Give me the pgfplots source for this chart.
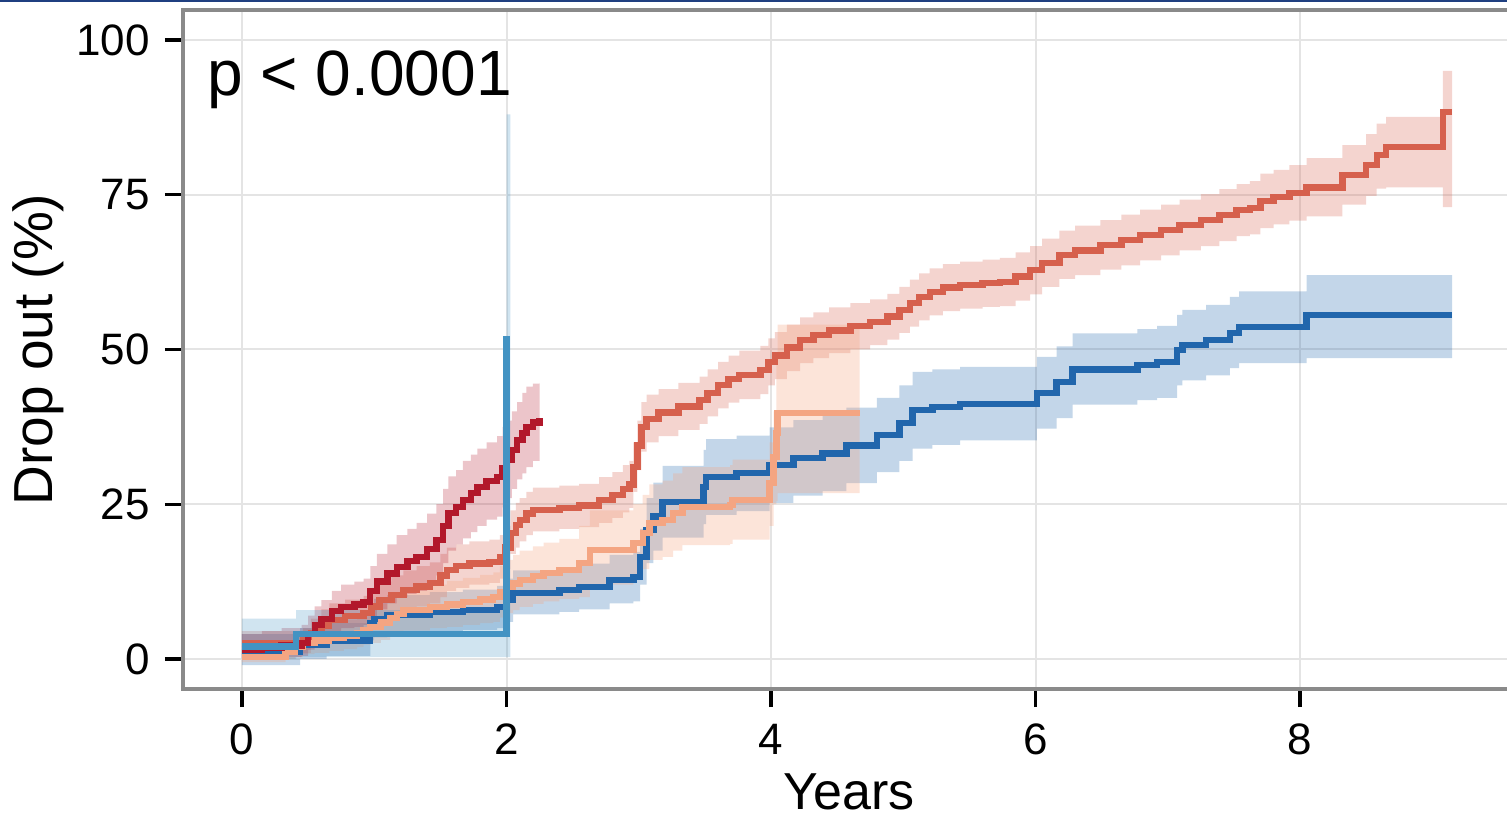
\documentclass[border=0pt]{standalone}
\usepackage{fontspec}
\setmainfont{Liberation Sans}
\usepackage{pgfplots}
\usepackage{pgfplotstable}
\pgfplotsset{compat=1.18}
\usepgfplotslibrary{fillbetween}
\definecolor{cDR}{HTML}{B2182B}
\definecolor{cRO}{HTML}{D6604D}
\definecolor{cSA}{HTML}{F4A582}
\definecolor{cDB}{HTML}{2166AC}
\definecolor{cMB}{HTML}{4393C3}
\definecolor{gridgray}{HTML}{E4E4E4}
\definecolor{axisgray}{HTML}{8A8A8A}
\definecolor{topblue}{HTML}{1F3F80}

\pgfplotstableread{
x y lo hi
0 1.5 0 4
0.15 1.8 0 4.5
0.3 2.2 0.3 5
0.45 2.6 0.5 5.5
0.5 4.0 1.5 7
0.55 5.5 2.5 8.5
0.6 6.5 3.5 9.5
0.68 7.8 4.5 11
0.75 8.4 5 12
0.85 8.8 5.2 12.5
0.92 9.2 5.5 13
0.97 11 6.5 15
1.02 12.5 8 17
1.1 13.8 9 18.5
1.17 14.9 10 20
1.25 15.8 10.5 21
1.32 16.5 11 22
1.4 17.8 12 23.5
1.47 19.2 13.5 25
1.52 21.5 15.5 27.5
1.56 23.6 17.5 29.5
1.62 24.6 18.5 30.5
1.67 25.7 19.5 32
1.73 26.8 20.5 33
1.78 27.8 21.5 34
1.85 28.8 22.5 35
1.93 29.4 23 36
1.97 30.8 24.5 37.5
2.0 32.1 26 38.5
2.04 33.8 27.5 40
2.08 35.4 29 41.5
2.12 36.5 30 43
2.15 37.5 31 44
2.2 38.2 32 44.5
2.25 38.9 32.6 44.6
}\DR

\pgfplotstableread{
x y lo hi
0 2.6 0.8 4.5
0.46 3.0 1 5
0.52 4.2 2 6.5
0.6 5.4 3 8
0.66 6.3 3.8 9
0.78 6.9 4.3 9.6
0.92 7.4 4.7 10.2
0.98 8.5 5.5 11.5
1.04 9.5 6.5 12.5
1.13 10.3 7.2 13.5
1.22 11.1 8 14.3
1.32 11.7 8.5 15
1.42 12.3 9 15.6
1.5 13.5 10 17
1.55 14.4 11 18
1.62 15 11.5 18.5
1.72 15.4 12 19
1.87 15.7 12.3 19.3
1.95 16.5 13 20
1.99 18 14.5 21.5
2.03 20.4 17 24
2.07 21.6 18 25.2
2.1 22.5 19 26
2.15 23.5 20 27
2.2 24.1 20.6 27.7
2.4 24.4 21 28
2.55 24.8 21.3 28.3
2.7 25.7 22 29.4
2.8 26.5 22.8 30.2
2.88 27.5 23.7 31.3
2.93 28.2 24.4 32
2.96 31 27 35
2.99 34.5 30.5 38.5
3.02 37.5 33.5 41.5
3.06 38.8 35 42.7
3.15 39.8 36 43.6
3.3 40.8 37 44.6
3.46 41.8 38 45.6
3.52 43 39.2 46.8
3.6 44.3 40.5 48
3.68 45.2 41.4 49
3.76 45.9 42 49.8
3.92 46.7 42.8 50.6
3.98 48 44.2 51.8
4.03 49 45.2 52.8
4.12 50.3 46.5 54
4.22 51.5 47.8 55.2
4.32 52.3 48.6 56
4.44 53.1 49.4 56.8
4.6 53.8 50 57.5
4.75 54.4 50.7 58.1
4.88 55.3 51.6 59
4.97 56.4 52.7 60.1
5.05 57.5 53.7 61.3
5.12 58.5 54.7 62.3
5.2 59.3 55.5 63.1
5.3 60 56.2 63.8
5.43 60.4 56.6 64.2
5.6 60.7 56.9 64.5
5.73 60.9 57 64.8
5.85 61.8 57.9 65.7
5.96 62.8 58.9 66.7
6.05 64 60.1 67.9
6.18 65.3 61.4 69.2
6.3 66 62 70
6.49 66.9 62.9 70.9
6.65 67.7 63.6 71.8
6.79 68.5 64.4 72.6
6.95 69.3 65.2 73.4
7.09 70.1 66 74.2
7.25 70.9 66.7 75.1
7.39 71.7 67.5 75.9
7.52 72.5 68.3 76.7
7.62 72.9 68.6 77.2
7.7 74 69.6 78.4
7.8 74.6 70.2 79
7.92 75.3 70.8 79.8
8.05 76.2 71.5 80.9
8.32 78.2 73.4 83
8.5 79.8 74.8 84.8
8.58 81.4 76 86.5
8.65 82.7 76.2 87.6
9.08 88.4 73 95
9.15 88.4 73 95
}\RO

\pgfplotstableread{
x y lo hi
0 0.3 -0.5 1.5
0.26 0.3 -0.5 1.8
0.33 1.2 0 3
0.4 1.9 0.3 4
0.46 2.6 0.8 4.8
0.55 3 1 5.3
0.66 3.4 1.3 5.8
0.77 3.8 1.6 6.3
0.87 4.2 1.9 6.8
0.92 4.7 2.3 7.4
0.97 5.2 2.6 8
1.05 5.9 3.1 8.9
1.12 6.6 3.6 9.8
1.17 7.3 4.1 10.7
1.22 7.9 4.6 11.4
1.42 8.4 5 12
1.55 8.8 5.2 12.6
1.67 9.2 5.5 13.1
1.8 9.6 5.8 13.6
1.9 10 6 14
1.95 10.8 6.7 15
2.0 11.6 7.4 16
2.05 12.2 7.9 16.8
2.1 12.8 8.4 17.5
2.2 13.4 8.9 18.2
2.28 13.9 9.3 18.8
2.4 14.4 9.7 19.4
2.55 15.5 10 21.5
2.63 17.6 12 24
2.96 18.7 13 25
3.03 20.4 14.5 26.5
3.08 22 16 28.2
3.18 22.5 16.5 28.8
3.26 23.6 17.5 30
3.33 24.6 18.4 31
3.69 24.9 18.6 31.3
3.71 25.7 19.3 32.2
3.99 28.4 21.5 35
4.02 32.6 25 40
4.04 36.5 25.5 48
4.05 39.7 26.8 54
4.67 39.7 26.8 54
}\SA

\pgfplotstableread{
x y lo hi
0 1.1 -1 4
0.44 2.3 0 5
0.64 3.0 0.5 5.8
0.97 5.8 3 9
1.0 6.5 3.5 9.7
1.1 7.1 4 10.3
1.42 7.6 4.5 10.8
1.67 7.9 4.7 11.2
1.93 8.4 5 11.8
2.0 9.5 6 13
2.05 10.7 7.2 14.3
2.4 11.1 7.6 14.7
2.55 11.6 8 15.4
2.78 12.8 9 16.8
2.96 13.2 9.3 17.3
3.01 16.5 12 21
3.06 20.8 15.5 26
3.11 23 17.5 28.5
3.18 25.4 19.6 31.2
3.49 27.8 21.8 33.8
3.51 29.4 23.3 35.5
3.74 30 23.9 36.1
3.99 31.3 25.2 37.4
4.17 32.5 26.4 38.6
4.39 33.2 27.1 39.3
4.57 34.5 28.4 40.6
4.8 36.2 30.2 42.2
4.97 38.1 32 44.2
5.07 40.2 34 46.4
5.22 40.7 34.6 46.8
5.43 41.2 35.3 47.2
6.01 43 37.2 48.8
6.16 44.7 38.9 50.5
6.28 46.8 41.1 52.6
6.77 47.5 41.8 53.3
6.92 48 42.2 53.8
7.07 49.9 44.2 55.6
7.11 50.7 45 56.4
7.29 51.5 45.8 57.2
7.47 52.7 47 58.5
7.54 53.6 47.8 59.4
8.05 55.6 48.6 62
9.15 55.6 48.6 62
}\DB

\pgfplotstableread{
x y
0 2.0
0.41 4.0
2.0 52.2
}\MB

\pgfplotstableread{
x lo hi
0 0 6.5
0.41 0.3 7.9
2.0 0.3 88
2.03 0.3 88
}\MBband

\begin{document}
\begin{tikzpicture}
\begin{axis}[name=ax, scale only axis, width=662pt, height=339.5pt,
  xmin=-0.446, xmax=9.565, ymin=-4.85, ymax=104.85,
  axis line style={draw=none},
  xtick={0,2,4,6,8}, ytick={0,25,50,75,100},
  tick align=outside, xtick pos=bottom, ytick pos=left,
  major tick length=9pt,
  tick style={black, line width=1.6pt},
  grid=major, grid style={color=gridgray, line width=1pt},
  ticklabel style={font=\fontsize{22}{26}\selectfont},
  xticklabel style={yshift=-5pt},
  yticklabel style={xshift=-4pt},
  /pgf/number format/assume math mode=true,
  xlabel={Years}, ylabel={Drop out (\%)},
  xlabel style={font=\fontsize{26}{30}\selectfont, at={(axis description cs:0.503,-0.178)}, anchor=base, inner sep=0pt},
  ylabel style={font=\fontsize{27.5}{32}\selectfont, at={(axis description cs:-0.0982,0.5)}, anchor=base, inner sep=0pt},
]
% bands
\addplot[name path=dblo, draw=none, const plot, forget plot] table[x=x,y=lo]{\DB};
\addplot[name path=dbhi, draw=none, const plot, forget plot] table[x=x,y=hi]{\DB};
\addplot[fill=cDB, fill opacity=0.27, draw=none, forget plot] fill between[of=dblo and dbhi];
\addplot[name path=rolo, draw=none, const plot, forget plot] table[x=x,y=lo]{\RO};
\addplot[name path=rohi, draw=none, const plot, forget plot] table[x=x,y=hi]{\RO};
\addplot[fill=cRO, fill opacity=0.27, draw=none, forget plot] fill between[of=rolo and rohi];
\addplot[name path=salo, draw=none, const plot, forget plot] table[x=x,y=lo]{\SA};
\addplot[name path=sahi, draw=none, const plot, forget plot] table[x=x,y=hi]{\SA};
\addplot[fill=cSA, fill opacity=0.3, draw=none, forget plot] fill between[of=salo and sahi];
\addplot[name path=drlo, draw=none, const plot, forget plot] table[x=x,y=lo]{\DR};
\addplot[name path=drhi, draw=none, const plot, forget plot] table[x=x,y=hi]{\DR};
\addplot[fill=cDR, fill opacity=0.25, draw=none, forget plot] fill between[of=drlo and drhi];
\addplot[name path=mblo, draw=none, const plot, forget plot] table[x=x,y=lo]{\MBband};
\addplot[name path=mbhi, draw=none, const plot, forget plot] table[x=x,y=hi]{\MBband};
\addplot[fill=cMB, fill opacity=0.25, draw=none, forget plot] fill between[of=mblo and mbhi];
% lines
\addplot[cDB, line width=3.2pt, const plot] table[x=x,y=y]{\DB};
\addplot[cRO, line width=3.2pt, const plot] table[x=x,y=y]{\RO};
\addplot[cSA, line width=3.2pt, const plot] table[x=x,y=y]{\SA};
\addplot[cDR, line width=3.2pt, const plot] table[x=x,y=y]{\DR};
\addplot[cMB, line width=3.2pt, const plot] table[x=x,y=y]{\MB};
\node[anchor=base west, inner sep=0pt, font=\fontsize{32}{38}\selectfont] at (axis cs:-0.2646,91.1) {p < 0.0001};
\end{axis}
\draw[axisgray, line width=1.6pt] ([xshift=2pt]ax.north east) -- (ax.north west) -- (ax.south west) -- ([xshift=2pt]ax.south east);
\draw[topblue, line width=1.6pt] ([xshift=-92pt,yshift=4.6pt]ax.north west) -- ([yshift=4.6pt,xshift=2pt]ax.north east);
\pgfresetboundingbox
\path ([xshift=-91.5pt,yshift=-64.5pt]ax.south west) rectangle ([yshift=5pt]ax.north east);
\end{tikzpicture}
\end{document}
